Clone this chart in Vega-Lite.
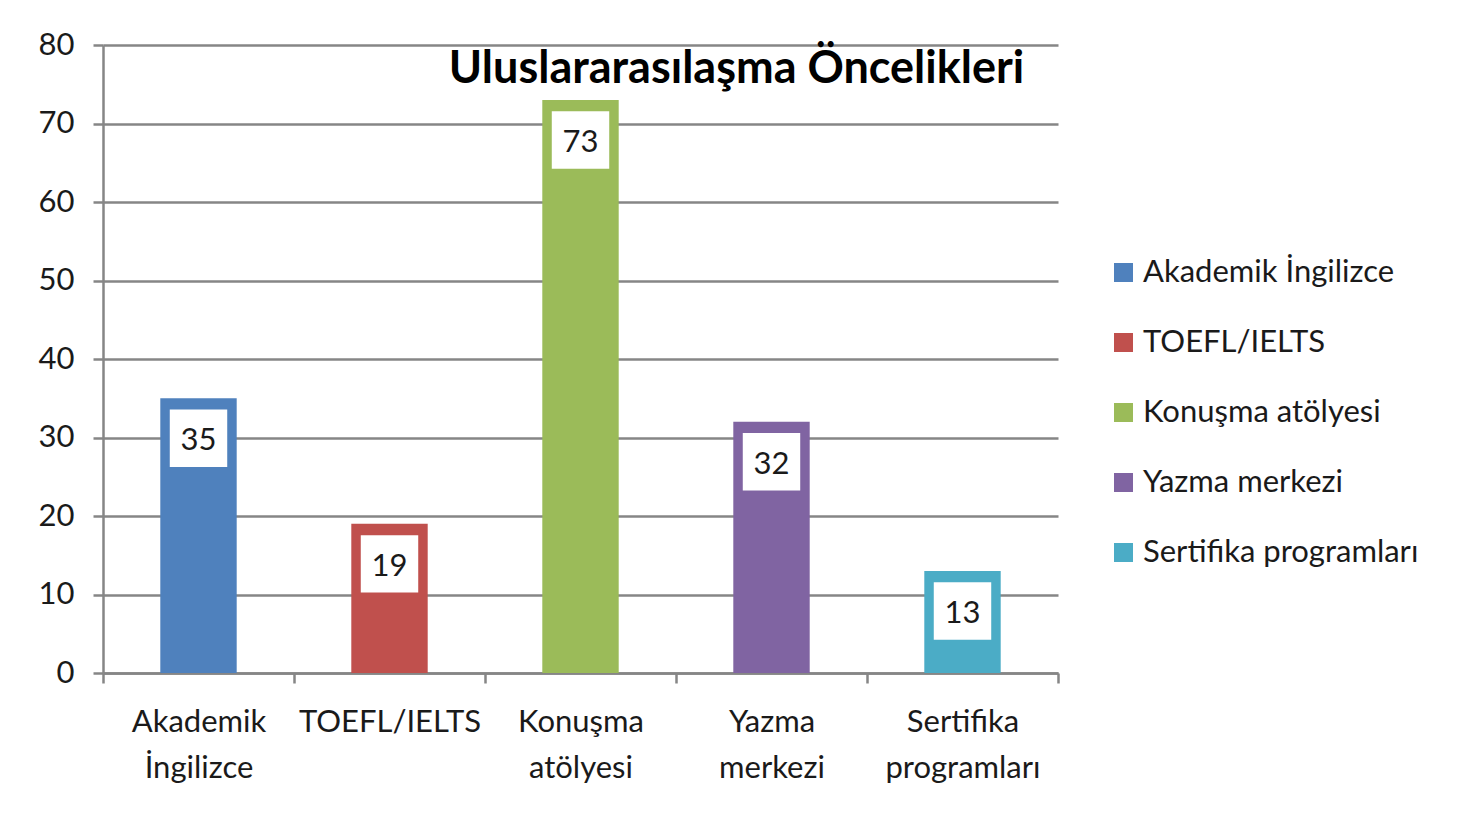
{
  "$schema": "https://vega.github.io/schema/vega-lite/v6.json",
  "width": 955,
  "height": 628,
  "autosize": {"type": "none"},
  "padding": {"left": 103, "top": 45, "right": 415, "bottom": 142},
  "background": "white",
  "config": {"view": {"stroke": null}},
  "data": {
    "values": [
      {"kategori": "Akademik İngilizce", "deger": 35},
      {"kategori": "TOEFL/IELTS", "deger": 19},
      {"kategori": "Konuşma atölyesi", "deger": 73},
      {"kategori": "Yazma merkezi", "deger": 32},
      {"kategori": "Sertifika programları", "deger": 13}
    ]
  },
  "encoding": {
    "x": {
      "field": "kategori",
      "type": "nominal",
      "sort": null,
      "scale": {"paddingInner": 0, "paddingOuter": 0},
      "axis": {
        "title": null,
        "labelAngle": 0,
        "labelExpr": "split(datum.label, ' ')",
        "labelLineHeight": 46,
        "labelFontSize": 31,
        "labelFont": "Lato",
        "labelColor": "#1a1a1a",
        "labelPadding": 24,
        "labelLimit": 400,
        "tickBand": "extent",
        "tickSize": 10,
        "tickColor": "#868686",
        "tickWidth": 2.5,
        "domainColor": "#868686",
        "domainWidth": 2.5,
        "grid": false
      }
    },
    "y": {
      "field": "deger",
      "type": "quantitative",
      "scale": {"domain": [0, 80], "nice": false},
      "axis": {
        "title": null,
        "values": [0, 10, 20, 30, 40, 50, 60, 70, 80],
        "labelFontSize": 31,
        "labelFont": "Lato",
        "labelColor": "#1a1a1a",
        "labelPadding": 19,
        "tickSize": 10,
        "tickColor": "#868686",
        "tickWidth": 2.5,
        "domainColor": "#868686",
        "domainWidth": 2.5,
        "grid": true,
        "gridColor": "#868686",
        "gridWidth": 2.5,
        "gridOpacity": 1
      }
    }
  },
  "layer": [
    {
      "mark": {"type": "bar", "width": {"band": 0.4}},
      "encoding": {
        "color": {
          "field": "kategori",
          "type": "nominal",
          "sort": null,
          "scale": {
            "domain": ["Akademik İngilizce", "TOEFL/IELTS", "Konuşma atölyesi", "Yazma merkezi", "Sertifika programları"],
            "range": ["#4F81BD", "#C0504D", "#9BBB59", "#8064A2", "#4BACC6"]
          },
          "legend": {
            "title": null,
            "orient": "none",
            "legendX": 1005,
            "legendY": 212,
            "padding": 0,
            "symbolType": "square",
            "symbolSize": 361,
            "symbolStrokeWidth": 0,
            "labelFontSize": 31,
            "labelFont": "Lato",
            "labelColor": "#1a1a1a",
            "labelOffset": 4,
            "labelLimit": 500,
            "rowPadding": 38
          }
        }
      }
    },
    {
      "mark": {"type": "point", "shape": "square", "filled": true, "color": "white", "opacity": 1, "size": 3300, "yOffset": 40},
      "encoding": {}
    },
    {
      "mark": {"type": "text", "yOffset": 43, "baseline": "middle", "fontSize": 31, "font": "Lato", "color": "#1a1a1a"},
      "encoding": {"text": {"field": "deger", "type": "quantitative"}}
    },
    {
      "data": {"values": [{"baslik": "Uluslararasılaşma Öncelikleri", "kategori": "Konuşma atölyesi", "deger": 80}]},
      "mark": {"type": "text", "baseline": "alphabetic", "align": "center", "dx": 156, "dy": 38, "fontSize": 45, "fontWeight": "bold", "font": "Lato", "color": "#000000"},
      "encoding": {"text": {"field": "baslik", "type": "nominal"}}
    }
  ]
}
